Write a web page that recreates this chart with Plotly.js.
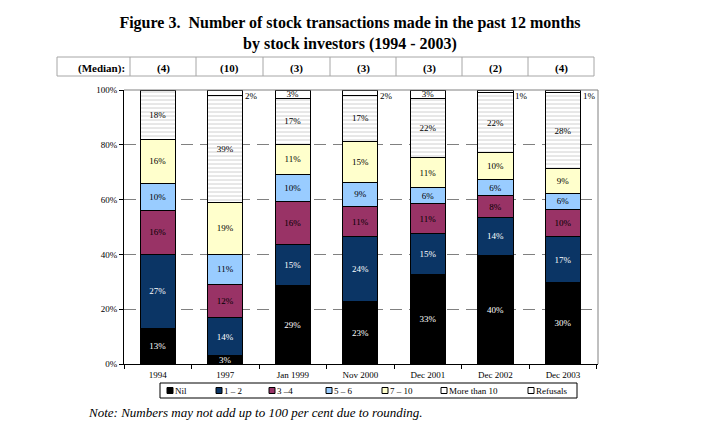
<!DOCTYPE html>
<html>
<head>
<meta charset="utf-8">
<script src="https://cdn.plot.ly/plotly-3.0.1.min.js"></script>
<style>html,body{margin:0;padding:0;background:#fff;}#chart{width:714px;height:433px;}</style>
</head>
<body>
<div id="chart"></div>
<script>
const categories = ["1994", "1997", "Jan 1999", "Nov 2000", "Dec 2001", "Dec 2002", "Dec 2003"];
const medians = ["(4)", "(10)", "(3)", "(3)", "(3)", "(2)", "(4)"];
const seriesNames = ["Nil", "1 \u2013 2", "3 \u20134", "5 \u2013 6", "7 \u2013 10", "More than 10", "Refusals"];
const nil       = [13, 3, 29, 23, 33, 40, 30];
const oneTwo    = [27, 14, 15, 24, 15, 14, 17];
const threeFour = [16, 12, 16, 11, 11, 8, 10];
const fiveSix   = [10, 11, 10, 9, 6, 6, 6];
const sevenTen  = [16, 19, 11, 15, 11, 10, 9];
const moreTen   = [18, 39, 17, 17, 22, 22, 28];
const refusals  = [0, 2, 3, 2, 3, 1, 1];

const series = [nil, oneTwo, threeFour, fiveSix, sevenTen, moreTen, refusals];
const colors = ["#000000", "#0b3565", "#993366", "#99ccff", "#ffffcc", "#ffffff", "#ffffff"];
const textColors = ["#ffffff", "#ffffff", "#000000", "#000000", "#000000", "#000000", "#000000"];
const serif = "Liberation Serif, Times New Roman, serif";

const traces = series.map((vals, i) => {
  const isRef = i === 6;
  const marker = {color: colors[i], line: {color: "#000000", width: 1}};
  if (i === 5) marker.pattern = {shape: "-", fgcolor: "#c4c4c4", bgcolor: "#ffffff", size: 4, solidity: 0.2};
  return {
    type: "bar", name: seriesNames[i], x: categories, y: vals,
    text: vals.map(v => (isRef ? (v >= 3 ? v + "%" : "") : v + "%")),
    textposition: "inside", insidetextanchor: "middle", textangle: 0,
    constraintext: "none",
    insidetextfont: {family: serif, size: 9, color: textColors[i]},
    marker: marker, hoverinfo: "skip", showlegend: false
  };
});

// plot area pixel geometry (layout constants)
const W = 714, H = 433;
const L = 124, R = 598, T = 90, B = 364;
const px = v => (v - L) / (R - L);
const py = v => (B - v) / (B - T);
const tableX = [57, 130, 196, 263, 330, 396, 462, 528, 594];
const tableTop = 57, tableBot = 76;
const legBox = {x0: 160, x1: 577, y0: 383, y1: 398};
const legKeyX = [167, 216, 269, 326, 382, 441, 528];

const shapes = [];
const gray = "#a6a6a6";
shapes.push({type: "line", xref: "paper", yref: "paper", x0: px(tableX[0]), x1: px(tableX[tableX.length-1]), y0: py(tableTop), y1: py(tableTop), line: {color: gray, width: 1}});
shapes.push({type: "line", xref: "paper", yref: "paper", x0: px(tableX[0]), x1: px(tableX[tableX.length-1]), y0: py(tableBot), y1: py(tableBot), line: {color: gray, width: 1}});
tableX.forEach(xv => shapes.push({type: "line", xref: "paper", yref: "paper", x0: px(xv), x1: px(xv), y0: py(tableTop), y1: py(tableBot), line: {color: gray, width: 1}}));
// top and right plot border
shapes.push({type: "line", xref: "paper", yref: "paper", x0: 0, x1: 1, y0: 1, y1: 1, line: {color: "#808080", width: 1}});
shapes.push({type: "line", xref: "paper", yref: "paper", x0: 1, x1: 1, y0: 0, y1: 1, line: {color: "#808080", width: 1}});
// legend box and keys
shapes.push({type: "rect", xref: "paper", yref: "paper", x0: px(legBox.x0), x1: px(legBox.x1), y0: py(legBox.y1), y1: py(legBox.y0), line: {color: "#000", width: 1}, fillcolor: "rgba(0,0,0,0)"});
legKeyX.forEach((kx, i) => shapes.push({type: "rect", xref: "paper", yref: "paper", x0: px(kx), x1: px(kx + 6), y0: py(393.5), y1: py(387.5), line: {color: "#000", width: 1}, fillcolor: colors[i]}));

const annotations = [];
annotations.push({xref: "paper", yref: "paper", x: px(tableX[1] - 3), y: py(69), xanchor: "right", yanchor: "middle", text: "<b>(Median):</b>", showarrow: false, font: {family: serif, size: 11, color: "#000"}});
medians.forEach((m, i) => annotations.push({xref: "paper", yref: "paper", x: px((tableX[i+1] + tableX[i+2]) / 2), y: py(69), xanchor: "center", yanchor: "middle", text: "<b>" + m + "</b>", showarrow: false, font: {family: serif, size: 11, color: "#000"}}));
refusals.forEach((v, i) => {
  // category axis: annotation x uses the category's serial index
  if (v > 0 && v < 3) annotations.push({x: i, y: 100, xref: "x", yref: "y", xanchor: "left", yanchor: "top", xshift: 18, yshift: 1, text: v + "%", showarrow: false, font: {family: serif, size: 9, color: "#000"}});
});
seriesNames.forEach((n, i) => annotations.push({xref: "paper", yref: "paper", x: px(legKeyX[i] + 7), y: py(390.5), xanchor: "left", yanchor: "middle", text: n, showarrow: false, borderpad: 0, font: {family: serif, size: 9, color: "#000"}}));
annotations.push({xref: "paper", yref: "paper", x: px(86), y: py(412), xanchor: "left", yanchor: "middle", text: "<i>Note: Numbers may not add up to 100 per cent due to rounding.</i>", showarrow: false, font: {family: serif, size: 13, color: "#000"}});

const layout = {
  width: W, height: H,
  margin: {l: L, r: W - R, t: T, b: H - B, autoexpand: false},
  paper_bgcolor: "#ffffff", plot_bgcolor: "#ffffff",
  title: {text: "<b>Figure 3.  Number of stock transactions made in the past 12 months<br>by stock investors (1994 - 2003)</b>", x: 350 / W, xanchor: "center", xref: "container", yref: "container", y: 1 - 28 / H, yanchor: "middle", font: {family: serif, size: 16, color: "#000"}},
  barmode: "stack", barnorm: "percent", bargap: 0.48,
  showlegend: false,
  xaxis: {type: "category", showline: true, linecolor: "#000", linewidth: 1, ticks: "outside", tickson: "boundaries", ticklen: 4, tickcolor: "#000", tickangle: 0, ticklabelstandoff: 2, tickfont: {family: serif, size: 9, color: "#000"}, showgrid: false, fixedrange: true},
  yaxis: {range: [0, 100], tickvals: [0, 20, 40, 60, 80, 100], ticktext: ["0%", "20%", "40%", "60%", "80%", "100%"], showline: true, linecolor: "#000", linewidth: 1, ticks: "outside", ticklen: 4, tickcolor: "#000", tickfont: {family: serif, size: 9, color: "#000"}, showgrid: true, gridcolor: "#808080", griddash: "12px,7px", gridwidth: 1, zeroline: false, fixedrange: true},
  shapes: shapes, annotations: annotations,
  font: {family: serif}
};

Plotly.newPlot("chart", traces, layout, {displayModeBar: false, staticPlot: true});
</script>
</body>
</html>
